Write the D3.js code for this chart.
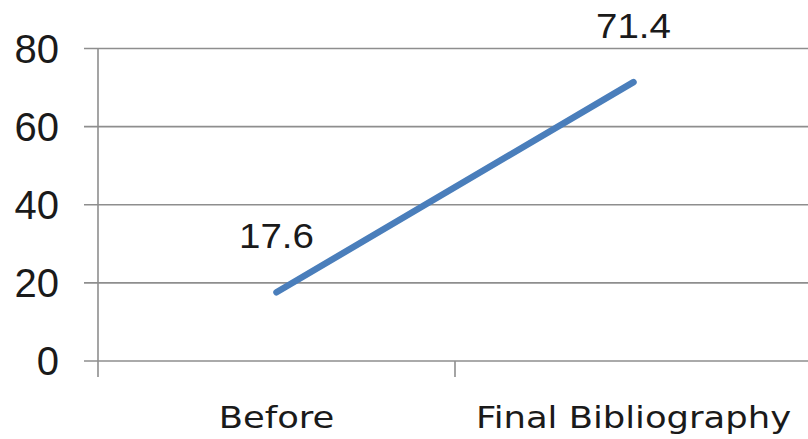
<!DOCTYPE html>
<html>
<head>
<meta charset="utf-8">
<script src="https://cdn.jsdelivr.net/npm/d3@7"></script>
<style>
  html, body { margin: 0; padding: 0; background: #fff; }
  svg { display: block; }
</style>
</head>
<body>
<svg id="chart" width="808" height="439"></svg>
<script>
const categories = ["Before", "Final Bibliography"];
const values = [17.6, 71.4];
const yTicks = [0, 20, 40, 60, 80];

(function () {
const svg = d3.select("#chart");
const W = 808;
const plotLeft = 98, plotRight = 812, plotTop = 48.5, plotBottom = 361;

const x = d3.scaleBand().domain(categories).range([plotLeft, plotRight]).paddingInner(0).paddingOuter(0);
const y = d3.scaleLinear().domain([0, 80]).range([plotBottom, plotTop]);
const cx = d => x(d) + x.bandwidth() / 2;

const gridColor = "#8e8e8e";

// gridlines + left ticks
svg.append("g").selectAll("line").data(yTicks).join("line")
  .attr("x1", plotLeft - 14).attr("x2", W)
  .attr("y1", d => y(d)).attr("y2", d => y(d))
  .attr("stroke", gridColor).attr("stroke-width", 1.6);

// y axis line
svg.append("line")
  .attr("x1", plotLeft).attr("x2", plotLeft)
  .attr("y1", y(80)).attr("y2", plotBottom + 16)
  .attr("stroke", gridColor).attr("stroke-width", 1.6);

// category boundary ticks
svg.append("g").selectAll("line").data(categories.slice(1)).join("line")
  .attr("x1", d => x(d)).attr("x2", d => x(d))
  .attr("y1", plotBottom).attr("y2", plotBottom + 16)
  .attr("stroke", gridColor).attr("stroke-width", 1.6);

// y tick labels
svg.append("g").selectAll("text").data(yTicks).join("text")
  .attr("x", 59).attr("y", d => y(d))
  .attr("dy", "0.36em")
  .attr("text-anchor", "end")
  .attr("font-family", "Liberation Sans, Arial, sans-serif")
  .attr("font-size", 40)
  .attr("fill", "#1a1a1a")
  .text(d => d);

// category labels
svg.append("g").selectAll("text").data(categories).join("text")
  .attr("transform", d => `translate(${cx(d)},428) scale(1.18,1)`)
  .attr("text-anchor", "middle")
  .attr("font-family", "DejaVu Sans, sans-serif")
  .attr("font-size", 30)
  .attr("fill", "#1a1a1a")
  .text(d => d);

// line
const data = categories.map((c, i) => ({ c, v: values[i] }));
svg.append("path")
  .datum(data)
  .attr("d", d3.line().x(d => cx(d.c)).y(d => y(d.v)))
  .attr("fill", "none")
  .attr("stroke", "#4a7ebb")
  .attr("stroke-width", 6.5)
  .attr("stroke-linecap", "round")
  .attr("stroke-linejoin", "round");

// data labels
svg.append("g").selectAll("text").data(data).join("text")
  .attr("transform", d => `translate(${cx(d.c)},${y(d.v) - 44}) scale(1.1,1)`)
  .attr("text-anchor", "middle")
  .attr("font-family", "Liberation Sans, Arial, sans-serif")
  .attr("font-size", 35)
  .attr("fill", "#1a1a1a")
  .text(d => d.v.toFixed(1));
})();
</script>
</body>
</html>
